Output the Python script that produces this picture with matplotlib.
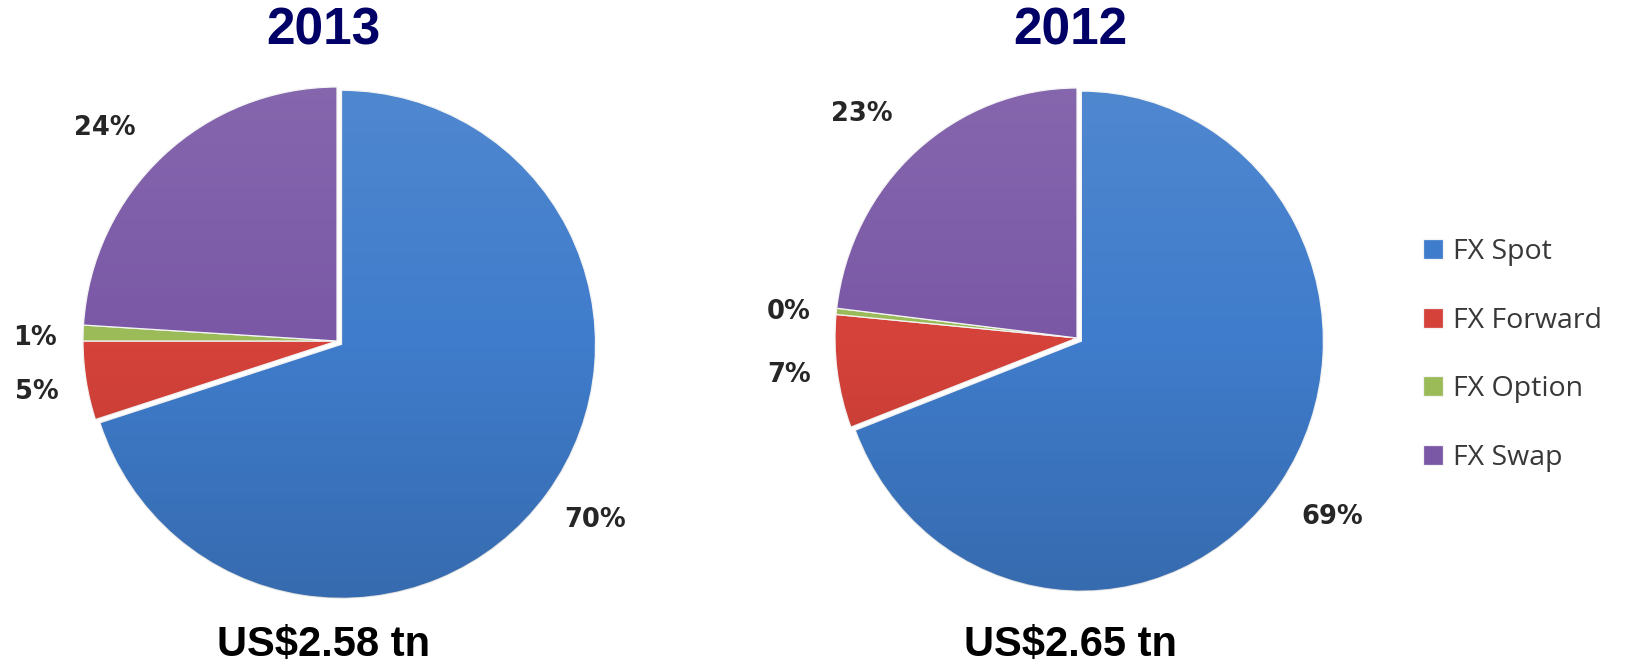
import matplotlib.pyplot as plt
import numpy as np

# data
names = ['FX Spot', 'FX Forward', 'FX Option', 'FX Swap']
share_2013 = [70.0, 5.0, 1.0, 24.0]
share_2012 = [69.2, 7.3, 0.4, 23.1]
years = ['2013', '2012']
totals = ['US$2.58 tn', 'US$2.65 tn']
colors = ['#3f7ccb', '#d5423a', '#9bbb59', '#7a58a6']

W, H = 1637, 671
fig = plt.figure(figsize=(W / 100, H / 100), dpi=100)

# pie layout in pixels: centre x, centre y (from top), radius x, radius y, box
layouts = [
    dict(cx=337, cy=341, rx=254, ry=254, box=(0, 700)),
    dict(cx=1077, cy=338, rx=242, ry=250, box=(700, 1400)),
]
# label spots in units of the radius (spot, forward, option, swap)
label_pos = [
    [(1.016, -0.705), (-1.181, -0.20), (-1.189, 0.012), (-0.913, 0.84)],
    [(1.054, -0.716), (-1.19, -0.148), (-1.19, 0.104), (-0.888, 0.896)],
]

# soft top-light / bottom-dark shading laid over each wedge
shade = np.zeros((256, 1, 4))
t = np.linspace(0, 1, 256)
shade[:, 0, :3] = np.where(t < 0.5, 1.0, 0.0)[:, None]
shade[:, 0, 3] = np.where(t < 0.5, (0.5 - t) * 0.2, (t - 0.5) * 0.3)

wedges = None
for k, shares in enumerate([share_2013, share_2012]):
    lay = layouts[k]
    x0, x1 = lay['box']
    ax = fig.add_axes([x0 / W, 0, (x1 - x0) / W, 1])
    wedges, _ = ax.pie(shares, explode=[0.022, 0, 0, 0], colors=colors,
                       startangle=90, counterclock=False,
                       wedgeprops=dict(edgecolor='#f4f4f4', linewidth=0.9))
    for w in wedges:
        im = ax.imshow(shade, extent=[-1.1, 1.1, -1.1, 1.1], aspect='auto',
                       origin='upper', zorder=w.get_zorder() + 0.1)
        im.set_clip_path(w)
    ax.set_aspect('auto')
    ax.set_xlim((x0 - lay['cx']) / lay['rx'], (x1 - lay['cx']) / lay['rx'])
    ax.set_ylim(-(H - lay['cy']) / lay['ry'], lay['cy'] / lay['ry'])
    ax.axis('off')
    for v, (px, py) in zip(shares, label_pos[k]):
        ax.text(px, py, '%d%%' % round(v), ha='center', va='center',
                fontsize=18.5, fontweight='bold', color='#262626',
                family='DejaVu Sans')

fig.text(323 / W, 1 - 31 / H, years[0], ha='center', va='center',
         fontsize=37, fontweight='bold', color='#000066', family='Liberation Sans')
fig.text(1070 / W, 1 - 31 / H, years[1], ha='center', va='center',
         fontsize=37, fontweight='bold', color='#000066', family='Liberation Sans')
fig.text(324 / W, 1 - 645 / H, totals[0], ha='center', va='center',
         fontsize=30, fontweight='bold', color='black', family='Liberation Sans')
fig.text(1070 / W, 1 - 645 / H, totals[1], ha='center', va='center',
         fontsize=30, fontweight='bold', color='black', family='Liberation Sans')

leg = fig.legend(wedges, names, loc='center left',
                 bbox_to_anchor=(1423 / W, 1 - 355 / H), frameon=False,
                 prop={'family': 'Open Sans', 'size': 20.5},
                 labelspacing=1.43, handlelength=0.7, handleheight=0.7,
                 handletextpad=0.35, borderpad=0, borderaxespad=0)
for txt in leg.get_texts():
    txt.set_color('#383838')

fig.savefig('out.png', dpi=100)
